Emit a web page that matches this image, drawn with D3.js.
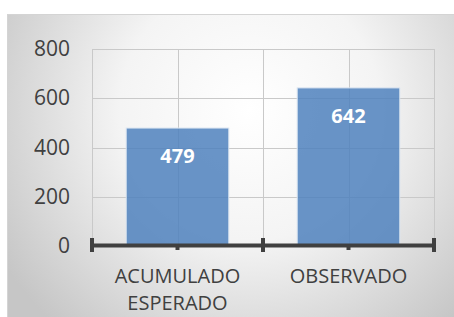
<!DOCTYPE html>
<html>
<head>
<meta charset="utf-8">
<script src="https://cdn.jsdelivr.net/npm/d3@7"></script>
<style>
  body { margin: 0; background: #fff; }
  text { font-family: "Open Sans", sans-serif; }
</style>
</head>
<body>
<div id="chart"></div>
<script>
var categories = [['ACUMULADO', 'ESPERADO'], ['OBSERVADO']];
var values = [479, 642];
var yTicks = [0, 200, 400, 600, 800];

var width = 454,
    height = 317;

var svg = d3.select('#chart')
    .append('svg')
    .attr('width', width)
    .attr('height', height);

var defs = svg.append('defs');
var grad = defs.append('radialGradient')
    .attr('id', 'bg')
    .attr('gradientUnits', 'userSpaceOnUse')
    .attr('cx', 250).attr('cy', 110).attr('r', 290);
grad.append('stop').attr('offset', '0%').attr('stop-color', '#ffffff');
grad.append('stop').attr('offset', '45%').attr('stop-color', '#f4f4f4');
grad.append('stop').attr('offset', '100%').attr('stop-color', '#c6c6c6');

svg.append('rect')
    .attr('x', 7.5).attr('y', 14.5)
    .attr('width', 460).attr('height', 320)
    .attr('fill', 'url(#bg)')
    .attr('stroke', '#d4d4d4');

var plotLeft = 92, plotRight = 434, plotTop = 49, plotBottom = 246;

var keys = categories.map(function (d) { return d.join(' '); });

var x = d3.scaleBand()
    .domain(keys)
    .range([plotLeft, plotRight])
    .paddingInner(0.4)
    .paddingOuter(0.2);

var xOuter = d3.scaleBand()
    .domain(keys)
    .range([plotLeft, plotRight])
    .padding(0);

var y = d3.scaleLinear().domain([0, 800]).range([plotBottom, plotTop]);

// horizontal gridlines
svg.selectAll('.hgrid')
    .data(yTicks.filter(function (d) { return d > 0; }))
    .enter()
    .append('line')
    .attr('class', 'hgrid')
    .attr('x1', plotLeft).attr('x2', plotRight)
    .attr('y1', function (d) { return Math.round(y(d)) + 0.5; })
    .attr('y2', function (d) { return Math.round(y(d)) + 0.5; })
    .attr('stroke', '#c9c9c9');

// vertical gridlines at boundaries and centers
var vx = [plotLeft];
keys.forEach(function (k) {
    vx.push(xOuter(k) + xOuter.bandwidth() / 2);
    vx.push(xOuter(k) + xOuter.bandwidth());
});
svg.selectAll('.vgrid')
    .data(vx)
    .enter()
    .append('line')
    .attr('class', 'vgrid')
    .attr('x1', function (d) { return Math.round(d) + 0.5; })
    .attr('x2', function (d) { return Math.round(d) + 0.5; })
    .attr('y1', plotTop).attr('y2', plotBottom)
    .attr('stroke', '#c9c9c9');

// bars
svg.selectAll('.bar')
    .data(values)
    .enter()
    .append('rect')
    .attr('class', 'bar')
    .attr('x', function (d, i) { return x(keys[i]); })
    .attr('y', function (d) { return y(d); })
    .attr('width', x.bandwidth())
    .attr('height', function (d) { return plotBottom - y(d); })
    .attr('fill', '#4f81bd')
    .attr('fill-opacity', 0.85)
    .attr('stroke', '#dbe5f1')
    .attr('stroke-width', 1);

// data labels
svg.selectAll('.dlabel')
    .data(values)
    .enter()
    .append('text')
    .attr('class', 'dlabel')
    .attr('x', function (d, i) { return x(keys[i]) + x.bandwidth() / 2; })
    .attr('y', function (d) { return y(d) + 35; })
    .attr('text-anchor', 'middle')
    .attr('fill', '#ffffff')
    .attr('font-weight', 'bold')
    .attr('font-size', '20px')
    .text(function (d) { return d; });

// axis line
svg.append('line')
    .attr('x1', plotLeft - 2).attr('x2', plotRight + 2)
    .attr('y1', plotBottom - 0.5).attr('y2', plotBottom - 0.5)
    .attr('stroke', '#404040')
    .attr('stroke-width', 4);

// major ticks at category boundaries
var majors = [plotLeft].concat(keys.map(function (k) { return xOuter(k) + xOuter.bandwidth(); }));
svg.selectAll('.major')
    .data(majors)
    .enter()
    .append('line')
    .attr('x1', function (d) { return d; })
    .attr('x2', function (d) { return d; })
    .attr('y1', plotBottom - 8).attr('y2', plotBottom + 6)
    .attr('stroke', '#404040')
    .attr('stroke-width', 4);

// minor ticks at centers
svg.selectAll('.minor')
    .data(keys)
    .enter()
    .append('line')
    .attr('x1', function (d) { return xOuter(d) + xOuter.bandwidth() / 2; })
    .attr('x2', function (d) { return xOuter(d) + xOuter.bandwidth() / 2; })
    .attr('y1', plotBottom).attr('y2', plotBottom + 4)
    .attr('stroke', '#404040')
    .attr('stroke-width', 4);

// y labels
svg.selectAll('.ylabel')
    .data(yTicks)
    .enter()
    .append('text')
    .attr('class', 'ylabel')
    .attr('x', 70)
    .attr('y', function (d) { return y(d) + 7; })
    .attr('text-anchor', 'end')
    .attr('fill', '#404040')
    .attr('font-size', '21px')
    .text(function (d) { return d; });

// x labels
var xl = svg.selectAll('.xlabel')
    .data(categories)
    .enter()
    .append('text')
    .attr('class', 'xlabel')
    .attr('text-anchor', 'middle')
    .attr('fill', '#404040')
    .attr('font-size', '20px');

xl.selectAll('tspan')
    .data(function (d, i) {
        return d.map(function (t) { return { t: t, k: keys[i] }; });
    })
    .enter()
    .append('tspan')
    .attr('x', function (d) { return xOuter(d.k) + xOuter.bandwidth() / 2; })
    .attr('y', function (d, j) { return 283 + j * 27; })
    .text(function (d) { return d.t; });
</script>
</body>
</html>
